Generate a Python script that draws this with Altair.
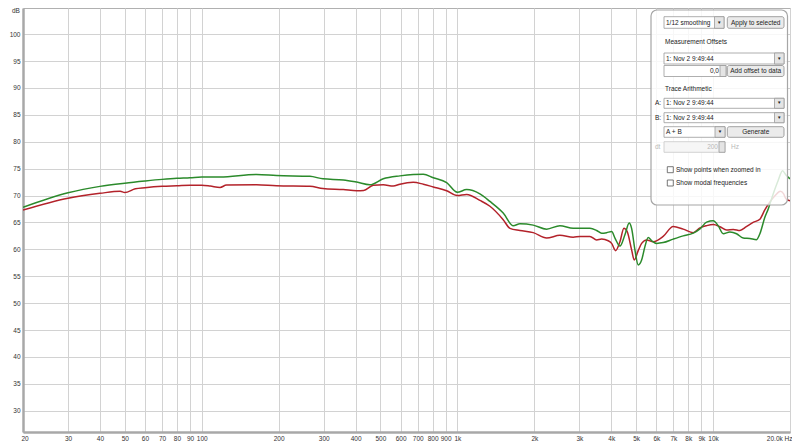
import altair as alt
import pandas as pd

# ---------------- data ----------------
green_freq = [20, 30, 40, 50, 60, 70, 80, 90, 100, 118, 164, 196, 265, 298, 358, 404, 455, 513,
              596, 672, 736, 805, 908, 999, 1087, 1225, 1341, 1511, 1654, 1757, 1980, 2234, 2518,
              2838, 3016, 3300, 3506, 3667, 3836, 4012, 4134, 4324, 4522, 4700, 4803, 4948, 5097,
              5256, 5414, 5578, 5750, 6016, 6383, 6986, 7644, 8364, 8890, 9440, 10020, 10470,
              10960, 11640, 12360, 13120, 13940, 14800, 15250, 15960, 16440, 17190, 17980, 18700,
              19280, 20000]
green_db = [67.8, 70.5, 71.7, 72.3, 72.7, 73.0, 73.2, 73.3, 73.45, 73.45, 73.9, 73.7, 73.56, 73.1,
            72.9, 72.5, 72.0, 73.1, 73.65, 73.9, 73.95, 73.3, 72.4, 70.6, 71.1, 70.3, 68.9, 66.75,
            64.4, 64.75, 64.5, 63.75, 64.4, 63.9, 63.9, 63.9, 63.5, 63.0, 63.1, 63.3, 62.1, 60.6,
            62.7, 64.9, 63.9, 59.9, 57.1, 58.0, 60.5, 62.2, 61.6, 61.1, 61.25, 61.9, 62.5, 63.0,
            63.8, 65.05, 65.3, 64.4, 62.9, 63.2, 62.9, 62.1, 62.0, 61.8, 62.9, 66.0, 67.5, 70.3,
            72.8, 74.6, 73.8, 73.1]

red_freq = [20, 30, 40, 48, 50, 55, 60, 70, 80, 90, 100, 108, 118, 125, 164, 196, 265, 298, 358,
            404, 430, 469, 513, 561, 596, 672, 736, 805, 908, 999, 1087, 1225, 1341, 1511, 1606,
            1757, 1980, 2234, 2518, 2838, 3016, 3300, 3506, 3667, 3890, 4012, 4160, 4324, 4482,
            4616, 4803, 4918, 5097, 5256, 5498, 5834, 6383, 6986, 7644, 8364, 8890, 9440, 10020,
            10640, 11300, 12000, 12740, 13500, 14350, 15250, 15960, 16690, 17500, 18330, 18890,
            19280, 20000]
red_db = [67.3, 69.5, 70.4, 70.8, 70.55, 71.25, 71.45, 71.7, 71.8, 71.9, 71.9, 71.75, 71.5, 71.94,
          72.0, 71.8, 71.7, 71.3, 71.1, 70.9, 70.95, 71.9, 72.0, 71.75, 72.1, 72.45, 72.1, 71.6,
          70.9, 70.0, 70.2, 69.1, 68.0, 65.5, 63.9, 63.5, 63.1, 62.1, 62.6, 62.25, 62.4, 62.4,
          61.75, 61.9, 61.6, 61.1, 59.75, 61.4, 63.9, 63.3, 59.9, 58.0, 59.75, 61.1, 61.75, 61.4,
          62.4, 64.25, 63.75, 63.1, 64.0, 64.4, 64.6, 64.2, 63.6, 63.7, 63.5, 64.2, 65.0, 65.6,
          67.4, 68.8, 70.0, 70.8, 70.3, 69.4, 69.0]

x_ticks = [20, 30, 40, 50, 60, 70, 80, 90, 100, 200, 300, 400, 500, 600, 700, 800, 900,
           1000, 2000, 3000, 4000, 5000, 6000, 7000, 8000, 9000, 10000, 20000]
x_labels = ["20", "30", "40", "50", "60", "70", "80", "90", "100", "200", "300", "400", "500",
            "600", "700", "800", "900", "1k", "2k", "3k", "4k", "5k", "6k", "7k", "8k", "9k",
            "10k", "20,0k Hz"]
y_ticks = [30, 35, 40, 45, 50, 55, 60, 65, 70, 75, 80, 85, 90, 95, 100]

# ---------------- overlay panel (decorative UI, plot-pixel coordinates) ----------------
FONT = "Liberation Sans"
GREEN = "#2b8a2b"
RED = "#b3222a"

panel_outline = pd.DataFrame({"x": [628], "x2": [764.5], "y": [2], "y2": [197]})
white_boxes = pd.DataFrame({
    "x": [641, 641, 641, 641, 641, 641],
    "x2": [701, 761, 703, 761, 761, 702],
    "y": [8.7, 45, 57.5, 90.3, 104.7, 118.7],
    "y2": [20.3, 56, 68.5, 100.3, 114.7, 129.3],
})
disabled_boxes = pd.DataFrame({"x": [641], "x2": [702], "y": [133.7], "y2": [144.3]})
arrow_cells = pd.DataFrame({
    "x": [691.5, 751.5, 751.5, 751.5, 692, 697, 696],
    "x2": [701, 761, 761, 761, 702, 703, 702],
    "y": [8.7, 45, 90.3, 104.7, 118.7, 57.5, 133.7],
    "y2": [20.3, 56, 100.3, 114.7, 129.3, 68.5, 144.3],
})
buttons = pd.DataFrame({
    "x": [704.3, 704.3, 704.3],
    "x2": [761, 761, 761],
    "y": [8.7, 57.5, 118.7],
    "y2": [20.3, 68.5, 129.3],
})
checkboxes = pd.DataFrame({"x": [644.3, 644.3], "x2": [650.3, 650.3],
                           "y": [158.7, 172], "y2": [164.7, 178]})

left_texts = pd.DataFrame({
    "x": [643, 642, 643, 642, 632, 643, 632, 643, 643, 632, 708, 653, 653],
    "y": [14.5, 33.7, 50.5, 81.3, 95.3, 95.3, 109.7, 109.7, 124, 139, 139, 161.7, 175],
    "text": ["1/12 smoothing", "Measurement Offsets", "1: Nov 2 9:49:44", "Trace Arithmetic",
             "A:", "1: Nov 2 9:49:44", "B:", "1: Nov 2 9:49:44", "A + B", "dt", "Hz",
             "Show points when zoomed in", "Show modal frequencies"],
    "color": ["#222", "#222", "#222", "#222", "#222", "#222", "#222", "#222", "#222",
              "#b8b8b8", "#b8b8b8", "#222", "#222"],
})
center_texts = pd.DataFrame({
    "x": [732.7, 732.7, 732.7, 696.2, 756.2, 756.2, 756.2, 697],
    "y": [14.5, 63, 124, 14.5, 50.5, 95.3, 109.7, 124],
    "text": ["Apply to selected", "Add offset to data", "Generate", "▼", "▼", "▼", "▼", "▼"],
    "size": [6.5, 6.5, 6.5, 4.5, 4.5, 4.5, 4.5, 4.5],
})
right_texts = pd.DataFrame({"x": [696, 695], "y": [63, 139], "text": ["0,0", "200"],
                            "color": ["#222", "#b8b8b8"]})

# ---------------- chart ----------------
x_scale = alt.Scale(type="log", domain=[20, 20000], nice=False)
y_scale = alt.Scale(domain=[26.05, 104.85], nice=False, zero=False)

label_expr = ("[" + ",".join("'%s'" % l for l in x_labels) + "][indexof(["
              + ",".join(str(v) for v in x_ticks) + "], datum.value)]")

x_axis = alt.Axis(values=x_ticks, labelExpr=label_expr, grid=True, ticks=False, title=None,
                  labelFlush=True, labelFlushOffset=2, labelPadding=3, labelOverlap=False)
y_axis = alt.Axis(values=y_ticks, grid=True, ticks=False, title=None, labelPadding=3,
                  labelOverlap=False)

g_df = pd.DataFrame({"freq": green_freq, "db": green_db})
r_df = pd.DataFrame({"freq": red_freq, "db": red_db})

red_line = alt.Chart(r_df).mark_line(color=RED, strokeWidth=1.5, interpolate="monotone",
                                     clip=True).encode(
    x=alt.X("freq:Q", scale=x_scale, axis=x_axis),
    y=alt.Y("db:Q", scale=y_scale, axis=y_axis),
)
green_line = alt.Chart(g_df).mark_line(color=GREEN, strokeWidth=1.5, interpolate="monotone",
                                       clip=True).encode(
    x=alt.X("freq:Q", scale=x_scale, axis=x_axis),
    y=alt.Y("db:Q", scale=y_scale, axis=y_axis),
)
traces = alt.layer(red_line, green_line)


def rect_layer(df, **mark):
    return alt.Chart(df).mark_rect(**mark).encode(
        x=alt.X("x:Q", scale=None, axis=None), x2="x2:Q",
        y=alt.Y("y:Q", scale=None, axis=None), y2="y2:Q",
    )


def text_layer(df, align, size_field=False, color_field=True, **mark):
    enc = dict(
        x=alt.X("x:Q", scale=None, axis=None),
        y=alt.Y("y:Q", scale=None, axis=None),
        text="text:N",
    )
    if color_field:
        enc["color"] = alt.Color("color:N", scale=None)
    if size_field:
        enc["size"] = alt.Size("size:Q", scale=None)
    return alt.Chart(df).mark_text(align=align, baseline="middle", font=FONT, **mark).encode(**enc)


panel = rect_layer(panel_outline, fill="#ffffff", fillOpacity=0.82, stroke="#a6a6a6",
                   strokeWidth=1.2, cornerRadius=6)
boxes = rect_layer(white_boxes, fill="#ffffff", stroke="#9a9a9a", strokeWidth=0.8)
dis_boxes = rect_layer(disabled_boxes, fill="#f6f6f6", stroke="#c8c8c8", strokeWidth=0.8)
arrows = rect_layer(arrow_cells, fill="#e4e4e4", stroke="#9a9a9a", strokeWidth=0.8)
btns = rect_layer(buttons, fill="#ebebeb", stroke="#8a8a8a", strokeWidth=0.8, cornerRadius=2)
cboxes = rect_layer(checkboxes, fill="#ffffff", stroke="#555555", strokeWidth=0.8)

t_left = text_layer(left_texts, "left", fontSize=6.5)
t_center = text_layer(center_texts, "center", size_field=True, color_field=False, color="#222")
t_right = text_layer(right_texts, "right", fontSize=6.5)

db_label = alt.Chart(pd.DataFrame({"text": ["dB"]})).mark_text(
    align="left", baseline="top", font=FONT, fontSize=6.5, color="#333").encode(
    x=alt.value(-11), y=alt.value(0), text="text:N")

overlay = alt.layer(panel, boxes, dis_boxes, arrows, btns, cboxes, t_left, t_center, t_right,
                    db_label)

chart = alt.layer(traces, overlay).resolve_scale(
    x="independent", y="independent"
).resolve_axis(
    x="independent", y="independent"
).properties(
    width=767, height=424,
    autosize=alt.AutoSizeParams(type="none"),
    padding={"left": 15, "top": 0, "right": 2, "bottom": 9},
).configure_view(
    stroke="#b0b0b0", strokeWidth=1,
).configure_axis(
    labelFont=FONT, labelFontSize=6.5, labelColor="#333333",
    domainColor="#a8a8a8", domainWidth=2.5,
    gridColor="#d2d2d2", gridWidth=1,
)

chart.save("out.html", embed_options={"renderer": "svg", "actions": False})
